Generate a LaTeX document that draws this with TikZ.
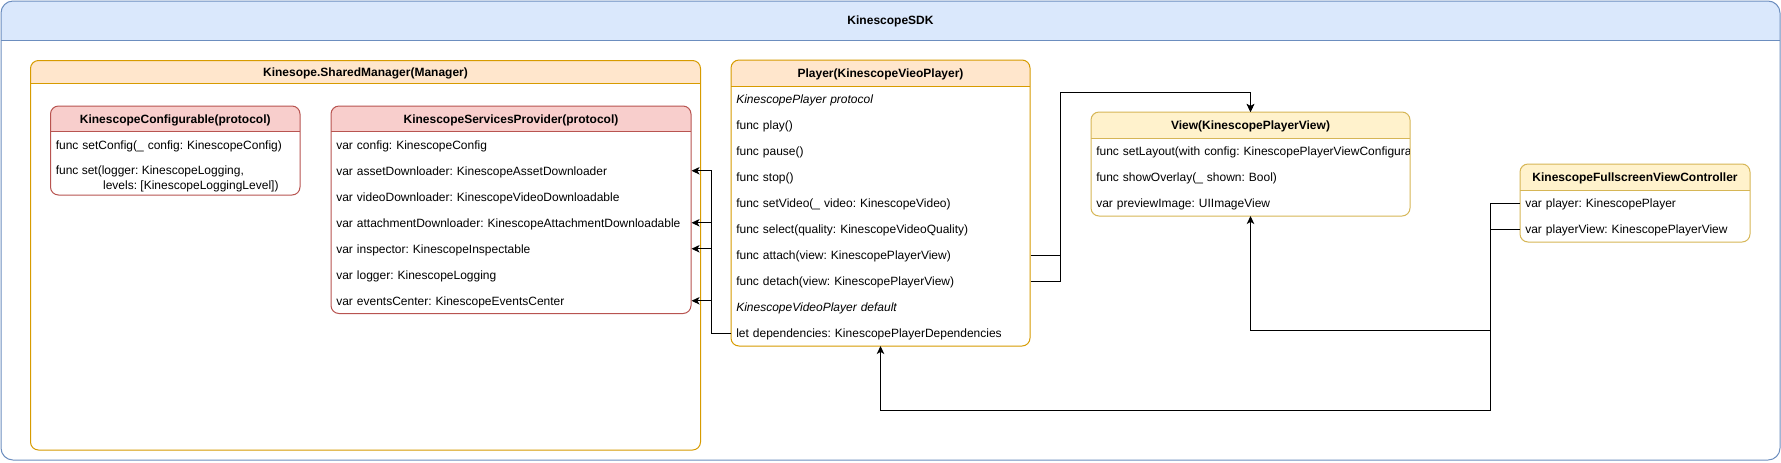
\documentclass[tikz,border=0pt]{standalone}
\usepackage{fontspec}
\setmainfont{Liberation Sans}
\usetikzlibrary{arrows.meta,calc}
\definecolor{sdkfill}{HTML}{DAE8FC}
\definecolor{sdkdraw}{HTML}{6C8EBF}
\definecolor{orfill}{HTML}{FFE6CC}
\definecolor{ordraw}{HTML}{D79B00}
\definecolor{rdfill}{HTML}{F8CECC}
\definecolor{rddraw}{HTML}{B85450}
\definecolor{yefill}{HTML}{FFF2CC}
\definecolor{yedraw}{HTML}{D6B656}
\newcommand\rowfont{\fontsize{9pt}{10.8pt}\selectfont\frenchspacing}
\newcommand\rowstrut{\rule[-1.95pt]{0pt}{10.35pt}}
\frenchspacing
\begin{document}
\begin{tikzpicture}[x=0.75pt,y=-0.75pt,
  umlbox/.style n args={4}{draw=#2, fill=white, line width=0.75pt,
    rounded corners=#4, anchor=north west, inner sep=0pt, outer sep=0pt,
    path picture={
      \fill[#1, sharp corners] (path picture bounding box.north west)
        rectangle ([yshift=-#3]path picture bounding box.north east);
      \draw[#2, line width=0.75pt, sharp corners]
        ([yshift=-#3]path picture bounding box.north west) --
        ([yshift=-#3]path picture bounding box.north east);}},
  boxtitle/.style={font=\bfseries\rowfont, inner sep=0pt,
    text height=8.4pt, text depth=1.95pt},
  row/.style={anchor=north west, text width=#1, inner xsep=3.75pt,
    inner ysep=0pt, minimum height=19.5pt, align=left, font=\rowfont,
    text height=8.4pt, text depth=1.95pt},
  conn/.style={draw=black, line width=0.75pt,
    -{Stealth[length=6pt,width=5.6pt,inset=1.6pt]}}]
\useasboundingbox (0,0) rectangle (1781,462);

% SDK container
\node[umlbox={sdkfill}{sdkdraw}{29.25pt}{9pt},
  minimum width=1334.25pt, minimum height=344.25pt] (sdk) at (1,1) {};
\node[boxtitle] (sdkt) at ($(sdk.north)+(0,19.5)$) {KinescopeSDK};

% Shared manager
\node[umlbox={orfill}{ordraw}{17.25pt}{6pt},
  minimum width=502.5pt, minimum height=292.125pt] (mgr) at (30.5,60.5) {};
\node[boxtitle] (mgrt) at ($(mgr.north)+(0,11.5)$) {Kinesope.SharedManager(Manager)};

% KinescopeConfigurable
\node[umlbox={rdfill}{rddraw}{19.125pt}{6pt},
  minimum width=187.125pt, minimum height=66.75pt] (conf) at (50.5,106) {};
\node[boxtitle] (conft) at ($(conf.north)+(0,12.75)$) {KinescopeConfigurable(protocol)};
\node[row=179.625pt] (setcfg) at (50.5,131.5) {func setConfig(\_ config: KinescopeConfig)};
\node[font=\rowfont, anchor=west, inner xsep=3.75pt, inner ysep=0pt, align=left]
  (setlog) at (50.5,177.5)
  {\rowstrut func set(logger: KinescopeLogging,\\\rowstrut\hspace*{35.5pt}levels: [KinescopeLoggingLevel])};

% KinescopeServicesProvider
\node[umlbox={rdfill}{rddraw}{19.125pt}{6pt},
  minimum width=270pt, minimum height=155.625pt] (prov) at (331,106) {};
\node[boxtitle] (provt) at ($(prov.north)+(0,12.75)$) {KinescopeServicesProvider(protocol)};
\node[row=262.5pt] (cfg)   at (331,131.5) {var config: KinescopeConfig};
\node[row=262.5pt] (asset) at (331,157.5) {var assetDownloader: KinescopeAssetDownloader};
\node[row=262.5pt] (vdl)   at (331,183.5) {var videoDownloader: KinescopeVideoDownloadable};
\node[row=262.5pt] (att)   at (331,209.5) {var attachmentDownloader: KinescopeAttachmentDownloadable};
\node[row=262.5pt] (insp)  at (331,235.5) {var inspector: KinescopeInspectable};
\node[row=262.5pt] (logr)  at (331,261.5) {var logger: KinescopeLogging};
\node[row=262.5pt] (evc)   at (331,287.5) {var eventsCenter: KinescopeEventsCenter};

% Player
\node[umlbox={orfill}{ordraw}{19.5pt}{6pt},
  minimum width=224.25pt, minimum height=214.5pt] (player) at (731,60) {};
\node[boxtitle] (playert) at ($(player.north)+(0,13)$) {Player(KinescopeVieoPlayer)};
\node[row=216.75pt] (pproto) at (731,86)  {\itshape KinescopePlayer protocol};
\node[row=216.75pt] (play)   at (731,112) {func play()};
\node[row=216.75pt] (pause)  at (731,138) {func pause()};
\node[row=216.75pt] (stop)   at (731,164) {func stop()};
\node[row=216.75pt] (setvid) at (731,190) {func setVideo(\_ video: KinescopeVideo)};
\node[row=216.75pt] (sel)    at (731,216) {func select(quality: KinescopeVideoQuality)};
\node[row=216.75pt] (attach) at (731,242) {func attach(view: KinescopePlayerView)};
\node[row=216.75pt] (detach) at (731,268) {func detach(view: KinescopePlayerView)};
\node[row=216.75pt] (pdef)   at (731,294) {\itshape KinescopeVideoPlayer default};
\node[row=216.75pt] (deps)   at (731,320) {let dependencies: KinescopePlayerDependencies};

% View
\node[umlbox={yefill}{yedraw}{19.5pt}{6pt},
  minimum width=239.25pt, minimum height=78pt] (view) at (1091,112) {};
\node[boxtitle] (viewt) at ($(view.north)+(0,13)$) {View(KinescopePlayerView)};
\begin{scope}
  \clip (view.north west) rectangle ($(view.south east)+(-1,0)$);
  \node[row=231.75pt] (setlay) at (1091,138)
    {\makebox[\linewidth][l]{func setLayout(with config: KinescopePlayerViewConfigura}};
\end{scope}
\node[row=231.75pt] (ovl)  at (1091,164) {func showOverlay(\_ shown: Bool)};
\node[row=231.75pt] (prev) at (1091,190) {var previewImage: UIImageView};

% Fullscreen view controller
\node[umlbox={yefill}{yedraw}{19.5pt}{6pt},
  minimum width=172.5pt, minimum height=58.5pt] (fvc) at (1520,164) {};
\node[boxtitle] (fvct) at ($(fvc.north)+(0,13)$) {KinescopeFullscreenViewController};
\node[row=165pt] (fplayer) at (1520,190) {var player: KinescopePlayer};
\node[row=165pt] (fview)   at (1520,216) {var playerView: KinescopePlayerView};

% Connectors
\draw[conn] (deps.west) -- ++(-20,0) |- (asset.east);
\draw[conn] (deps.west) -- ++(-20,0) |- (att.east);
\draw[conn] (deps.west) -- ++(-20,0) |- (insp.east);
\draw[conn] (deps.west) -- ++(-20,0) |- (evc.east);
\draw[conn] (attach.east) -- ++(30,0) |- ($(view.north)+(0,-20)$) -- (view.north);
\draw[conn] (detach.east) -- ++(30,0) |- ($(view.north)+(0,-20)$) -- (view.north);
\draw[conn] (fplayer.west) -- ++(-30,0) |- ($(player.south)+(0,64)$) -- (player.south);
\draw[conn] (fview.west) -- ++(-30,0) |- ($(view.south)+(0,114)$) -- (view.south);
\end{tikzpicture}
\end{document}
